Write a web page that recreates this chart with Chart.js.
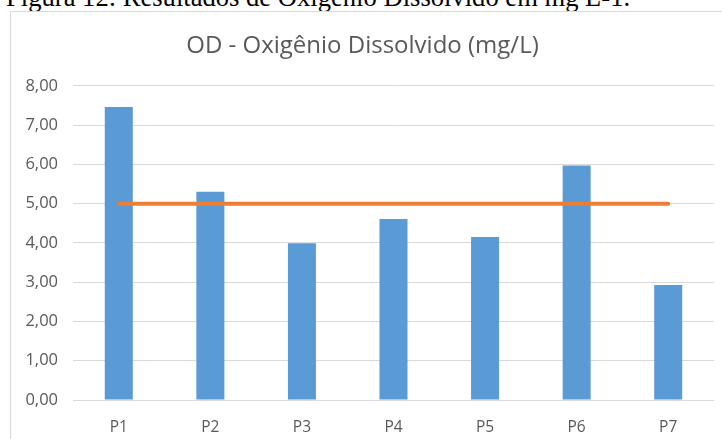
<!DOCTYPE html>
<html>
<head>
<meta charset="utf-8">
<script src="https://cdn.jsdelivr.net/npm/chart.js@4/dist/chart.umd.min.js"></script>
<style>
  html, body { margin: 0; padding: 0; background: #fff; width: 722px; height: 439px; overflow: hidden; position: relative; }
  #caption { position: absolute; left: 6px; top: -16px; font-family: "Liberation Serif", "Times New Roman", serif; font-size: 26.6px; line-height: 26px; color: #000; white-space: nowrap; }
  #box { position: absolute; left: 10px; top: 11px; width: 740px; height: 460px; border: 1px solid #d9d9d9; box-sizing: border-box; }
  #wrap { position: absolute; left: 11px; top: 12px; width: 711px; height: 427px; }
</style>
</head>
<body>
<div id="caption">Figura 12: Resultados de Oxigênio Dissolvido em mg L-1.</div>
<div id="box"></div>
<div id="wrap"><canvas id="c" width="711" height="427"></canvas></div>
<script>
const categories = ["P1", "P2", "P3", "P4", "P5", "P6", "P7"];
const odValues = [7.46, 5.30, 3.99, 4.61, 4.15, 5.97, 2.93];
const limitValues = [5, 5, 5, 5, 5, 5, 5];
const yTicks = [0, 1, 2, 3, 4, 5, 6, 7, 8];
const chartTitle = "OD - Oxigênio Dissolvido (mg/L)";

const txt = "#595959";
new Chart(document.getElementById("c"), {
  data: {
    labels: categories,
    datasets: [
      { type: "line", label: "Limite", data: limitValues, borderColor: "#ED7D31", borderWidth: 4,
        pointRadius: 0, borderCapStyle: "round", fill: false, order: 0 },
      { type: "bar", label: "OD", data: odValues, backgroundColor: "#5B9BD5",
        barPercentage: 0.306, categoryPercentage: 1, order: 1 }
    ]
  },
  options: {
    responsive: false,
    animation: false,
    layout: { padding: { left: 0, right: 8, top: 0, bottom: 0 } },
    plugins: {
      legend: { display: false },
      tooltip: { enabled: false },
      title: { display: true, text: chartTitle, color: txt,
        font: { family: "Open Sans", size: 24, weight: "normal" }, padding: { top: 20, bottom: 25 } }
    },
    scales: {
      x: {
        grid: { display: false },
        border: { display: false },
        afterFit: (s) => { s.height = 39; },
        ticks: { color: txt, font: { family: "Open Sans", size: 15.5 }, padding: 10 }
      },
      y: {
        min: 0, max: 8,
        afterBuildTicks: (s) => { s.ticks = yTicks.map(v => ({ value: v })); },
        afterFit: (s) => { s.width = 62; },
        grid: { color: "#d9d9d9", lineWidth: 1, drawTicks: false },
        border: { display: false },
        ticks: { color: txt, font: { family: "Open Sans", size: 16.5 }, padding: 15,
          callback: (v) => Number(v).toFixed(2).replace(".", ",") }
      }
    }
  }
});
</script>
</body>
</html>
